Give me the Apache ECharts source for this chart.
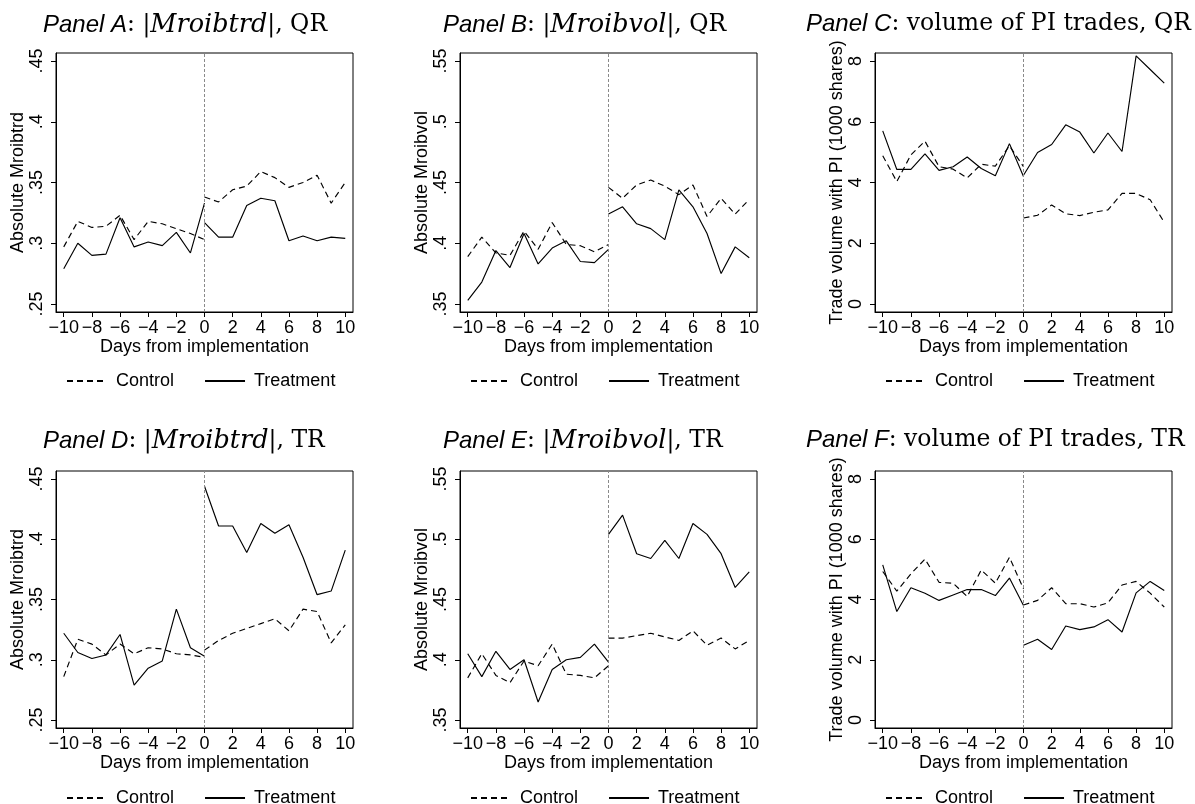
<!DOCTYPE html>
<html>
<head>
<meta charset="utf-8">
<script src="https://cdn.jsdelivr.net/npm/echarts@6/dist/echarts.min.js"></script>
<style>
  html, body { margin: 0; padding: 0; background: #fff; }
  #chart { width: 1195px; height: 804px; }
</style>
</head>
<body>
<div id="chart"></div>
<script>
// Event window: days relative to the implementation date
const preDays = [-10, -9, -8, -7, -6, -5, -4, -3, -2, -1, 0];
const postDays = [0, 1, 2, 3, 4, 5, 6, 7, 8, 9, 10];

// Axis tick values
const xTicks = [-10, -8, -6, -4, -2, 0, 2, 4, 6, 8, 10];
const yTicksTrd = [0.25, 0.3, 0.35, 0.4, 0.45];
const yTicksVol = [0.35, 0.4, 0.45, 0.5, 0.55];
const yTicksPI = [0, 2, 4, 6, 8];

// Panel A: |Mroibtrd|, QR
const aControlPre = [0.297, 0.318, 0.313, 0.314, 0.323, 0.303, 0.318, 0.316, 0.312, 0.308, 0.303];
const aControlPost = [0.338, 0.334, 0.344, 0.347, 0.359, 0.354, 0.346, 0.350, 0.356, 0.333, 0.350];
const aTreatPre = [0.279, 0.300, 0.290, 0.291, 0.321, 0.297, 0.301, 0.298, 0.309, 0.292, 0.333];
const aTreatPost = [0.317, 0.305, 0.305, 0.331, 0.337, 0.335, 0.302, 0.306, 0.302, 0.305, 0.304];

// Panel B: |Mroibvol|, QR
const bControlPre = [0.389, 0.405, 0.392, 0.390, 0.410, 0.395, 0.417, 0.399, 0.398, 0.393, 0.399];
const bControlPost = [0.446, 0.437, 0.448, 0.452, 0.447, 0.440, 0.448, 0.422, 0.437, 0.424, 0.436];
const bTreatPre = [0.353, 0.368, 0.394, 0.380, 0.408, 0.383, 0.396, 0.402, 0.385, 0.384, 0.395];
const bTreatPost = [0.424, 0.430, 0.416, 0.412, 0.403, 0.444, 0.430, 0.408, 0.375, 0.397, 0.388];

// Panel C: volume of PI trades, QR (1000 shares)
const cControlPre = [4.88, 4.03, 4.91, 5.36, 4.52, 4.44, 4.15, 4.60, 4.54, 5.21, 4.52];
const cControlPost = [2.83, 2.92, 3.26, 2.97, 2.91, 3.02, 3.10, 3.64, 3.64, 3.43, 2.69];
const cTreatPre = [5.70, 4.43, 4.43, 4.94, 4.40, 4.52, 4.84, 4.46, 4.22, 5.28, 4.20];
const cTreatPost = [4.24, 4.99, 5.25, 5.90, 5.66, 4.97, 5.63, 5.02, 8.17, 7.72, 7.27];

// Panel D: |Mroibtrd|, TR
const dControlPre = [0.286, 0.317, 0.313, 0.304, 0.313, 0.305, 0.310, 0.309, 0.305, 0.304, 0.302];
const dControlPost = [0.308, 0.316, 0.322, 0.326, 0.330, 0.334, 0.324, 0.342, 0.340, 0.314, 0.329];
const dTreatPre = [0.322, 0.306, 0.301, 0.304, 0.321, 0.279, 0.293, 0.299, 0.342, 0.310, 0.303];
const dTreatPost = [0.444, 0.411, 0.411, 0.389, 0.413, 0.405, 0.412, 0.385, 0.354, 0.357, 0.391];

// Panel E: |Mroibvol|, TR
const eControlPre = [0.385, 0.405, 0.387, 0.381, 0.399, 0.395, 0.413, 0.388, 0.387, 0.385, 0.395];
const eControlPost = [0.418, 0.418, 0.420, 0.422, 0.419, 0.416, 0.424, 0.412, 0.418, 0.409, 0.416];
const eTreatPre = [0.405, 0.386, 0.407, 0.392, 0.400, 0.365, 0.392, 0.400, 0.402, 0.413, 0.398];
const eTreatPost = [0.504, 0.520, 0.488, 0.484, 0.499, 0.484, 0.513, 0.504, 0.488, 0.460, 0.473];

// Panel F: volume of PI trades, TR (1000 shares)
const fControlPre = [4.93, 4.28, 4.85, 5.34, 4.57, 4.54, 4.10, 4.98, 4.54, 5.40, 4.35];
const fControlPost = [3.82, 3.97, 4.39, 3.86, 3.86, 3.75, 3.89, 4.48, 4.60, 4.21, 3.75];
const fTreatPre = [5.15, 3.60, 4.39, 4.21, 3.97, 4.15, 4.33, 4.33, 4.13, 4.71, 3.80];
const fTreatPost = [2.48, 2.68, 2.34, 3.12, 3.00, 3.09, 3.33, 2.92, 4.22, 4.60, 4.30];

// Panel headings and y-axis titles
const panelLetters = ['A', 'B', 'C', 'D', 'E', 'F'];
const panelMath = ['Mroibtrd', 'Mroibvol', null, 'Mroibtrd', 'Mroibvol', null];
const panelSuffix = ['QR', 'QR', 'QR', 'TR', 'TR', 'TR'];
const yNames = ['Absolute Mroibtrd', 'Absolute Mroibvol', 'Trade volume with PI (1000 shares)',
                'Absolute Mroibtrd', 'Absolute Mroibvol', 'Trade volume with PI (1000 shares)'];

const panels = [
  { ticks: yTicksTrd, cPre: aControlPre, cPost: aControlPost, tPre: aTreatPre, tPost: aTreatPost },
  { ticks: yTicksVol, cPre: bControlPre, cPost: bControlPost, tPre: bTreatPre, tPost: bTreatPost },
  { ticks: yTicksPI, cPre: cControlPre, cPost: cControlPost, tPre: cTreatPre, tPost: cTreatPost },
  { ticks: yTicksTrd, cPre: dControlPre, cPost: dControlPost, tPre: dTreatPre, tPost: dTreatPost },
  { ticks: yTicksVol, cPre: eControlPre, cPost: eControlPost, tPre: eTreatPre, tPost: eTreatPost },
  { ticks: yTicksPI, cPre: fControlPre, cPost: fControlPost, tPre: fTreatPre, tPost: fTreatPost }
];

// Layout of the 3 x 2 panel grid
const colLeft = [56, 460, 875];
const rowTop = [53, 471];
const plotW = 297;
const rowH = [259, 257];
const titleLeft = [43, 443, 806];
const titleTop = [12, 428];
const legendLeft = [66, 470, 885];
const legendTop = [372, 789];

const SANS = '"Liberation Sans", Arial, Helvetica, sans-serif';
const SERIF = '"DejaVu Serif", "Liberation Serif", serif';
const FS = 18;

function fmtX(v) { return v < 0 ? '\u2212' + Math.abs(v) : String(v); }
function fmtY(v) { return String(+v.toFixed(2)).replace(/^0\./, '.'); }
function pairs(xs, ys) { return xs.map((x, i) => [x, ys[i]]); }

const option = {
  backgroundColor: '#fff',
  animation: false,
  title: [], legend: [], grid: [], xAxis: [], yAxis: [], series: []
};

panels.forEach((p, i) => {
  const col = i % 3, row = Math.floor(i / 3);
  const step = p.ticks[1] - p.ticks[0];
  const yPad = step * 8 / 60.5;
  const xPad = 0.55;

  const richText = panelMath[i]
    ? `{p|Panel ${panelLetters[i]}}{r|: |}{m|${panelMath[i]}}{r||, ${panelSuffix[i]}}`
    : `{p|Panel ${panelLetters[i]}}{r|: volume of PI trades, ${panelSuffix[i]}}`;

  option.title.push({
    text: richText,
    left: titleLeft[col], top: titleTop[row], padding: 0,
    textStyle: {
      fontWeight: 'normal',
      rich: {
        p: { fontFamily: SANS, fontStyle: 'italic', fontWeight: 'normal', fontSize: 24, color: '#000' },
        m: { fontFamily: SERIF, fontStyle: 'italic', fontWeight: 'normal', fontSize: 25.5, color: '#000' },
        r: { fontFamily: SERIF, fontWeight: 'normal', fontSize: 23.5, color: '#000' }
      }
    }
  });

  option.legend.push({
    left: legendLeft[col], top: legendTop[row], padding: 0,
    data: ['Control', 'Treatment'],
    itemWidth: 40, itemHeight: 14, itemGap: 30,
    selectedMode: false,
    itemStyle: { color: 'rgba(0,0,0,0)', borderWidth: 0 },
    textStyle: { fontFamily: SANS, fontSize: FS, color: '#000', padding: [0, 0, 0, 4] }
  });

  option.grid.push({
    left: colLeft[col], top: rowTop[row], width: plotW, height: rowH[row],
    show: true, borderColor: '#000', borderWidth: 1, backgroundColor: '#fff'
  });

  option.xAxis.push({
    type: 'value', gridIndex: i,
    min: xTicks[0] - xPad, max: xTicks[xTicks.length - 1] + xPad,
    name: 'Days from implementation', nameLocation: 'middle', nameGap: 25,
    nameTextStyle: { fontFamily: SANS, fontSize: FS, color: '#000' },
    axisLine: { show: true, onZero: false, lineStyle: { color: '#000', width: 1 } },
    axisTick: { show: true, length: 5, customValues: xTicks, lineStyle: { color: '#000' } },
    axisLabel: { customValues: xTicks, formatter: fmtX, margin: 7,
                 fontFamily: SANS, fontSize: FS, color: '#000' },
    splitLine: { show: false }
  });

  option.yAxis.push({
    type: 'value', gridIndex: i,
    min: p.ticks[0] - yPad, max: p.ticks[p.ticks.length - 1] + yPad,
    name: yNames[i], nameLocation: 'middle', nameGap: 29, nameRotate: 90,
    nameTextStyle: { fontFamily: SANS, fontSize: FS, color: '#000' },
    axisLine: { show: true, onZero: false, lineStyle: { color: '#000', width: 1 } },
    axisTick: { show: true, length: 5, customValues: p.ticks, lineStyle: { color: '#000' } },
    axisLabel: { customValues: p.ticks, formatter: fmtY, rotate: 90, margin: 10,
                 fontFamily: SANS, fontSize: FS, color: '#000' },
    splitLine: { show: false }
  });

  const dashed = { color: '#000', width: 1.15, type: [6, 4] };
  const solid = { color: '#000', width: 1.15, type: 'solid' };
  const base = { type: 'line', xAxisIndex: i, yAxisIndex: i, symbol: 'none', silent: true };

  option.series.push(
    Object.assign({}, base, {
      name: 'Control', data: pairs(preDays, p.cPre), lineStyle: dashed, itemStyle: { color: '#000' },
      markLine: {
        silent: true, symbol: 'none', label: { show: false },
        lineStyle: { color: '#8a8a8a', width: 1, type: [3, 2] },
        data: [{ xAxis: 0 }]
      }
    }),
    Object.assign({}, base, { name: 'Control', data: pairs(postDays, p.cPost), lineStyle: dashed, itemStyle: { color: '#000' } }),
    Object.assign({}, base, { name: 'Treatment', data: pairs(preDays, p.tPre), lineStyle: solid, itemStyle: { color: '#000' } }),
    Object.assign({}, base, { name: 'Treatment', data: pairs(postDays, p.tPost), lineStyle: solid, itemStyle: { color: '#000' } })
  );
});

const chart = echarts.init(document.getElementById('chart'), null, { renderer: 'canvas' });
chart.setOption(option);
</script>
</body>
</html>
